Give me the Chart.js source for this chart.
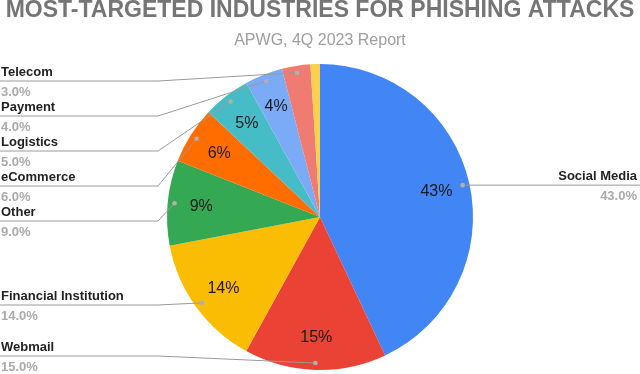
<!DOCTYPE html>
<html>
<head>
<meta charset="utf-8">
<script src="https://cdn.jsdelivr.net/npm/chart.js@4"></script>
<style>
  html, body { margin: 0; padding: 0; background: #fff; }
  #wrap { width: 640px; height: 374px; }
</style>
</head>
<body>
<div id="wrap"><canvas id="myCanvas" width="640" height="374"></canvas></div>
<script>
// data
const categories = ["Social Media", "Webmail", "Financial Institution", "Other", "eCommerce", "Logistics", "Payment", "Telecom", ""];
const shares = [43, 15, 14, 9, 6, 5, 4, 3, 1];
const sliceColors = ["#4285F4", "#EA4335", "#FBBC04", "#34A853", "#FF6D01", "#46BDC6", "#7BAAF7", "#F07B72", "#FCD04F"];

// where the left-hand leader lines sit (y of the underline), by slice index
const leaderLineY = { 1: 356, 2: 305, 3: 221, 4: 186, 5: 151, 6: 116, 7: 81 };
const FONT = "'Liberation Sans', Arial, sans-serif";

// draws the percent labels in the slices and the leader labels outside
const pieLabels = {
  id: "pieLabels",
  afterDatasetsDraw(chart) {
    const ctx = chart.ctx;
    const meta = chart.getDatasetMeta(0);
    const total = shares.reduce((a, b) => a + b, 0);

    ctx.save();
    meta.data.forEach((arc, i) => {
      const mid = (arc.startAngle + arc.endAngle) / 2;
      const R = arc.outerRadius;
      const pct = shares[i] / total * 100;

      // inside label
      if (pct >= 4) {
        const rr = R * 0.78;
        ctx.font = "16px " + FONT;
        ctx.fillStyle = "#1a1a1a";
        ctx.textAlign = "center";
        ctx.textBaseline = "middle";
        ctx.fillText(Math.round(pct) + "%", arc.x + Math.cos(mid) * rr, arc.y + Math.sin(mid) * rr + 1);
      }

      if (!categories[i]) return;

      // leader line + dot
      const dx = arc.x + Math.cos(mid) * R * 0.955;
      const dy = arc.y + Math.sin(mid) * R * 0.955;
      const left = Math.cos(mid) < 0;
      const lineY = left ? leaderLineY[i] : dy;

      ctx.strokeStyle = "#9a9a9a";
      ctx.lineWidth = 1;
      ctx.beginPath();
      if (left) {
        ctx.moveTo(0, lineY);
        ctx.lineTo(158, lineY);
        ctx.lineTo(dx, dy);
      } else {
        ctx.moveTo(dx, dy);
        ctx.lineTo(640, dy);
      }
      ctx.stroke();

      ctx.fillStyle = "#b0b0b0";
      ctx.beginPath();
      ctx.arc(dx, dy, 2.3, 0, Math.PI * 2);
      ctx.fill();

      // name and value
      const tx = left ? 1 : 637;
      ctx.textAlign = left ? "left" : "right";
      ctx.textBaseline = "alphabetic";
      ctx.font = "bold 13px " + FONT;
      ctx.fillStyle = "#222";
      ctx.fillText(categories[i], tx, lineY - 5);
      ctx.fillStyle = "#aaaaaa";
      ctx.fillText(pct.toFixed(1) + "%", tx, lineY + 15);
    });
    ctx.restore();
  }
};

function createPieChart() {
  const canvas = document.getElementById("myCanvas");
  const ctx = canvas.getContext("2d");

  new Chart(ctx, {
    type: "pie",
    data: {
      labels: categories,
      datasets: [
        {
          data: shares,
          backgroundColor: sliceColors,
          borderWidth: 0,
        },
      ],
    },
    options: {
      responsive: false,
      animation: false,
      layout: { padding: { bottom: 4 } },
      plugins: {
        legend: { display: false },
        tooltip: { enabled: false },
        title: {
          display: true,
          text: "MOST-TARGETED INDUSTRIES FOR PHISHING ATTACKS",
          color: "#757575",
          font: { family: FONT, size: 23, weight: "bold", lineHeight: 0.9 },
          padding: { top: 0, bottom: 0 },
        },
        subtitle: {
          display: true,
          text: "APWG, 4Q 2023 Report",
          color: "#9e9e9e",
          font: { family: FONT, size: 16 },
          padding: { top: 10.7, bottom: 13.4 },
        },
      },
    },
    plugins: [pieLabels],
  });
}

createPieChart();
</script>
</body>
</html>
